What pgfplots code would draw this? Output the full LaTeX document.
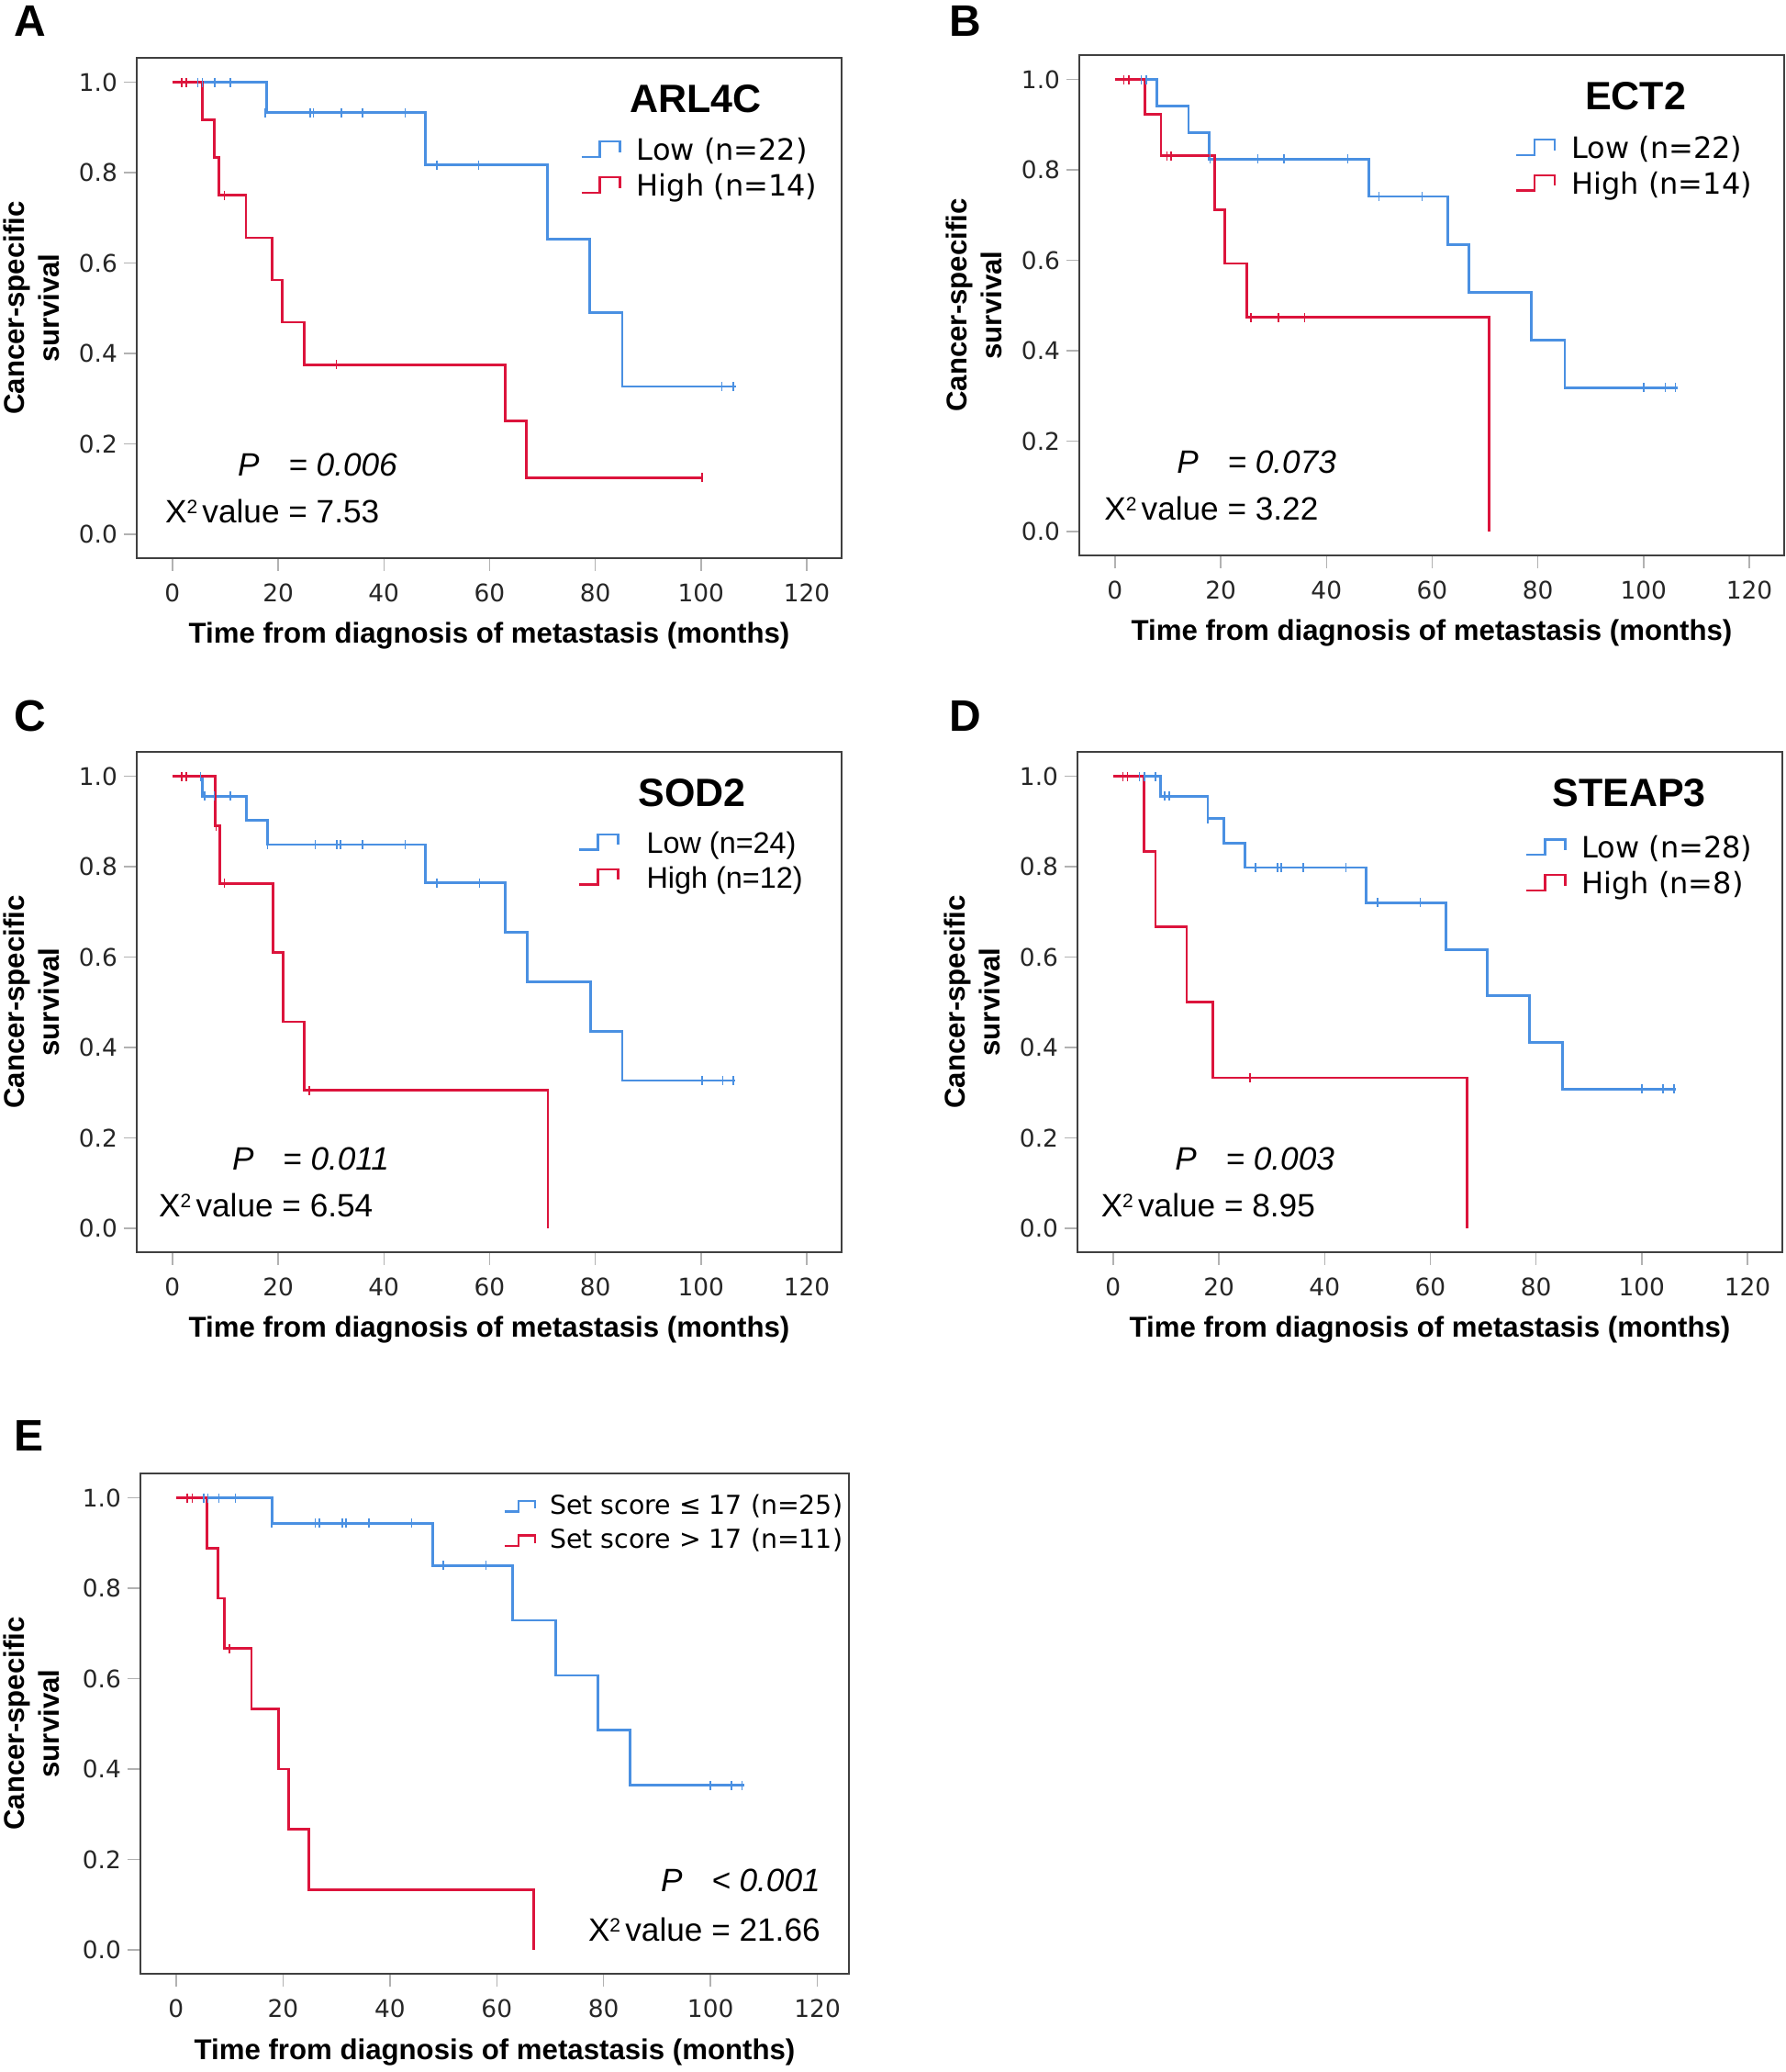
\documentclass[border=0pt]{standalone}
\usepackage{pgfplots}
\pgfplotsset{compat=1.18}
\usepackage{fontspec}
\setmainfont{Liberation Sans}
\newfontfamily\dejavu{DejaVu Sans}
\definecolor{kmblue}{HTML}{4A90E2}
\definecolor{kmred}{HTML}{DC143C}
\newcommand\tickfont{\dejavu\fontsize{13.2}{15}\selectfont}
\newcommand\labfont{\bfseries\fontsize{15.6}{19}\selectfont}
\newcommand\legfont{\dejavu\fontsize{16}{18}\selectfont}
\newcommand\legfontC{\fontsize{16.2}{18}\selectfont}
\newcommand\legfontE{\dejavu\fontsize{14.2}{16}\selectfont}
\newcommand\titfont{\bfseries\fontsize{21.5}{24}\selectfont}
\newcommand\pfont{\fontsize{17.6}{20}\selectfont}
\newcommand\letfont{\bfseries\fontsize{24}{26}\selectfont}
\newcommand\Xsq{X\raisebox{5.2pt}{\fontsize{10.5}{10.5}\selectfont 2}\hspace{2.6pt}value}
\pgfplotsset{
  kmaxis/.style={
    scale only axis, width=384pt, height=272.5pt,
    xmin=-6.75, xmax=126.6, ymin=-0.053, ymax=1.054,
    xtick={0,20,40,60,80,100,120}, ytick={0,0.2,0.4,0.6,0.8,1},
    tick pos=left, tick align=outside, major tick length=7pt,
    every tick/.style={gray!60, line width=0.7pt},
    axis line style={black!75, line width=1.1pt},
    ticklabel style={font=\tickfont, text=black!85},
    xticklabel style={yshift=-3.5pt},
    /pgf/number format/assume math mode=true,
    yticklabel style={/pgf/number format/.cd, fixed, fixed zerofill, precision=1},
    xlabel={Time from diagnosis of metastasis (months)},
    ylabel={Cancer-specific\\survival},
    xlabel style={font=\labfont, at={(axis description cs:0.5,-0.1706)}, anchor=base},
    ylabel style={font=\labfont, align=center, at={(axis description cs:-0.1497,0.5)}, anchor=center},
    legend cell align=left,
    legend style={draw=none, fill=none, inner sep=0pt, row sep=4.6pt, column sep=8.5pt,
      nodes={inner sep=0pt, text height=11.6pt, text depth=3.2pt}, font=\legfont},
    legend image code/.code={\draw[##1, line width=1.2pt] (0pt,-2.4pt) -- (10pt,-2.4pt) -- (10pt,6pt) -- (21pt,6pt) -- (21pt,0.2pt);},
  },
  smallicon/.style={
    legend image code/.code={\draw[##1, line width=1.2pt] (0pt,-2.3pt) -- (7.5pt,-2.3pt) -- (7.5pt,3.3pt) -- (16.5pt,3.3pt) -- (16.5pt,-0.8pt);},
  },
  lowline/.style={kmblue, line width=1.4pt, const plot, mark=none},
  highline/.style={kmred, line width=1.4pt, const plot, mark=none},
  lowcens/.style={kmblue, only marks, mark=|, mark size=2.5pt, mark options={line width=0.75pt}, forget plot},
  highcens/.style={kmred, only marks, mark=|, mark size=2.5pt, mark options={line width=0.75pt}, forget plot},
}
\begin{document}
\begin{tikzpicture}
\useasboundingbox (0,0) rectangle (973pt,-1128.5pt);
\node[font=\letfont, anchor=base west, inner sep=0pt] at (7.5pt,-20pt) {A};
\node[font=\letfont, anchor=base west, inner sep=0pt] at (517pt,-20pt) {B};
\node[font=\letfont, anchor=base west, inner sep=0pt] at (7.5pt,-398pt) {C};
\node[font=\letfont, anchor=base west, inner sep=0pt] at (517pt,-398pt) {D};
\node[font=\letfont, anchor=base west, inner sep=0pt] at (7.5pt,-790pt) {E};

% ---------- A ----------
\begin{axis}[kmaxis, at={(74.5pt,-304pt)}, anchor=south west,
  legend style={at={(rel axis cs:0.629,0.8385)}, anchor=north west}]
\addplot[lowline] coordinates {(0,1)(17.8,0.933)(47.8,0.817)(71.0,0.653)(78.9,0.490)(85.1,0.327)(106.6,0.327)};
\addlegendentry{Low (n=22)}
\addplot[highline] coordinates {(0,1)(5.7,0.917)(7.9,0.833)(8.8,0.75)(13.9,0.656)(18.9,0.5625)(20.8,0.469)(25.0,0.375)(62.9,0.25)(66.9,0.125)(100.2,0.125)};
\addlegendentry{High (n=14)}
\addplot[lowcens] coordinates {(4.8,1)(5.7,1)(8.0,1)(11.0,1)(17.6,0.933)(26.1,0.933)(26.7,0.933)(32.0,0.933)(36.0,0.933)(44.0,0.933)(50.0,0.817)(57.9,0.817)(103.9,0.327)(106.1,0.327)};
\addplot[highcens] coordinates {(1.75,1)(2.6,1)(9.8,0.75)(31.0,0.375)(100.2,0.125)};
\node[font=\titfont, anchor=base] at (rel axis cs:0.793,0.89) {ARL4C};
\node[font=\pfont, anchor=base west, inner sep=0pt] at (rel axis cs:0.143,0.165) {\textit{P\hspace{0.9em}= 0.006}};
\node[font=\pfont, anchor=base west, inner sep=0pt] at (rel axis cs:0.040,0.070) {\Xsq{} = 7.53};
\end{axis}

% ---------- B ----------
\begin{axis}[kmaxis, at={(588pt,-302.5pt)}, anchor=south west,
  legend style={at={(rel axis cs:0.618,0.837)}, anchor=north west}]
\addplot[lowline] coordinates {(0,1)(7.9,0.941)(13.9,0.882)(17.8,0.824)(48.0,0.741)(63.0,0.635)(66.9,0.529)(78.8,0.423)(85.1,0.318)(106.5,0.318)};
\addlegendentry{Low (n=22)}
\addplot[highline] coordinates {(0,1)(5.7,0.923)(8.7,0.831)(18.8,0.712)(20.8,0.593)(24.9,0.474)(70.8,0)};
\addlegendentry{High (n=14)}
\addplot[lowcens] coordinates {(5.0,1)(5.9,1)(18.0,0.824)(27.0,0.824)(32.0,0.824)(44.0,0.824)(49.9,0.741)(58.1,0.741)(100.0,0.318)(104.1,0.318)(106.0,0.318)};
\addplot[highcens] coordinates {(1.7,1)(2.6,1)(9.8,0.831)(10.6,0.831)(25.7,0.474)(30.9,0.474)(35.9,0.474)};
\node[font=\titfont, anchor=base] at (rel axis cs:0.789,0.89) {ECT2};
\node[font=\pfont, anchor=base west, inner sep=0pt] at (rel axis cs:0.138,0.165) {\textit{P\hspace{0.9em}= 0.073}};
\node[font=\pfont, anchor=base west, inner sep=0pt] at (rel axis cs:0.035,0.070) {\Xsq{} = 3.22};
\end{axis}

% ---------- C ----------
\begin{axis}[kmaxis, at={(74.5pt,-682pt)}, anchor=south west,
  legend style={at={(rel axis cs:0.626,0.842)}, anchor=north west, font=\legfontC, column sep=15pt,
    nodes={inner sep=0pt, text height=11.8pt, text depth=3.4pt}, row sep=3.8pt}]
\addplot[lowline] coordinates {(0,1)(5.7,0.956)(14.0,0.902)(18.0,0.849)(47.8,0.764)(63.0,0.655)(67.1,0.545)(79.1,0.436)(85.1,0.327)(106.5,0.327)};
\addlegendentry{Low (n=24)}
\addplot[highline] coordinates {(0,1)(8.1,0.89)(8.9,0.763)(19.0,0.61)(20.9,0.457)(25.0,0.305)(71.05,0)};
\addlegendentry{High (n=12)}
\addplot[lowcens] coordinates {(5.3,1)(6.1,0.956)(7.9,0.956)(11.0,0.956)(18.0,0.849)(27.0,0.849)(31.1,0.849)(31.8,0.849)(36.0,0.849)(44.0,0.849)(50.0,0.764)(58.1,0.764)(100.2,0.327)(104.1,0.327)(106.1,0.327)};
\addplot[highcens] coordinates {(1.75,1)(2.6,1)(8.3,0.89)(9.8,0.763)(25.9,0.305)};
\node[font=\titfont, anchor=base] at (rel axis cs:0.788,0.89) {SOD2};
\node[font=\pfont, anchor=base west, inner sep=0pt] at (rel axis cs:0.135,0.165) {\textit{P\hspace{0.9em}= 0.011}};
\node[font=\pfont, anchor=base west, inner sep=0pt] at (rel axis cs:0.031,0.070) {\Xsq{} = 6.54};
\end{axis}

% ---------- D ----------
\begin{axis}[kmaxis, at={(587pt,-682pt)}, anchor=south west,
  legend style={at={(rel axis cs:0.635,0.831)}, anchor=north west}]
\addplot[lowline] coordinates {(0,1)(8.9,0.956)(17.9,0.906)(20.9,0.852)(25.0,0.798)(47.8,0.720)(62.9,0.617)(70.8,0.514)(78.8,0.411)(85.0,0.308)(106.5,0.308)};
\addlegendentry{Low (n=28)}
\addplot[highline] coordinates {(0,1)(5.85,0.833)(8.0,0.667)(13.9,0.5)(18.9,0.333)(67.0,0)};
\addlegendentry{High (n=8)}
\addplot[lowcens] coordinates {(5.0,1)(5.9,1)(8.0,1)(9.7,0.956)(10.6,0.956)(17.9,0.906)(26.9,0.798)(31.1,0.798)(31.8,0.798)(36.0,0.798)(44.0,0.798)(50.0,0.720)(58.1,0.720)(100.0,0.308)(104.0,0.308)(106.1,0.308)};
\addplot[highcens] coordinates {(1.8,1)(2.7,1)(25.9,0.333)};
\node[font=\titfont, anchor=base] at (rel axis cs:0.7826,0.89) {STEAP3};
\node[font=\pfont, anchor=base west, inner sep=0pt] at (rel axis cs:0.138,0.165) {\textit{P\hspace{0.9em}= 0.003}};
\node[font=\pfont, anchor=base west, inner sep=0pt] at (rel axis cs:0.033,0.070) {\Xsq{} = 8.95};
\end{axis}

% ---------- E ----------
\begin{axis}[kmaxis, smallicon, width=386pt, at={(76.5pt,-1075pt)}, anchor=south west,
  xmin=-6.68, xmax=125.9,
  ylabel style={at={(axis description cs:-0.154,0.5)}},
  legend style={at={(rel axis cs:0.512,0.958)}, anchor=north west, font=\legfontE, column sep=7.5pt,
    nodes={inner sep=0pt, text height=10.4pt, text depth=3pt}, row sep=5.3pt}]
\addplot[lowline] coordinates {(0,1)(17.9,0.944)(48.0,0.85)(62.9,0.729)(71.0,0.607)(78.9,0.486)(84.9,0.364)(106.4,0.364)};
\addlegendentry{Set score ≤ 17 (n=25)}
\addplot[highline] coordinates {(0,1)(5.8,0.889)(7.9,0.778)(9.0,0.667)(14.1,0.533)(19.1,0.4)(21.1,0.267)(24.9,0.133)(66.9,0)};
\addlegendentry{Set score > 17 (n=11)}
\addplot[lowcens] coordinates {(5.2,1)(5.9,1)(8.0,1)(11.1,1)(17.9,0.944)(26.0,0.944)(26.8,0.944)(31.1,0.944)(31.8,0.944)(36.1,0.944)(44.1,0.944)(50.0,0.85)(58.0,0.85)(100.0,0.364)(103.9,0.364)(105.9,0.364)};
\addplot[highcens] coordinates {(2.1,1)(3.0,1)(10.0,0.667)};
\node[font=\pfont, anchor=base east, inner sep=0pt] at (rel axis cs:0.960,0.165) {\textit{P\hspace{0.9em}< 0.001}};
\node[font=\pfont, anchor=base east, inner sep=0pt] at (rel axis cs:0.960,0.065) {\Xsq{} = 21.66};
\end{axis}
\end{tikzpicture}
\end{document}
